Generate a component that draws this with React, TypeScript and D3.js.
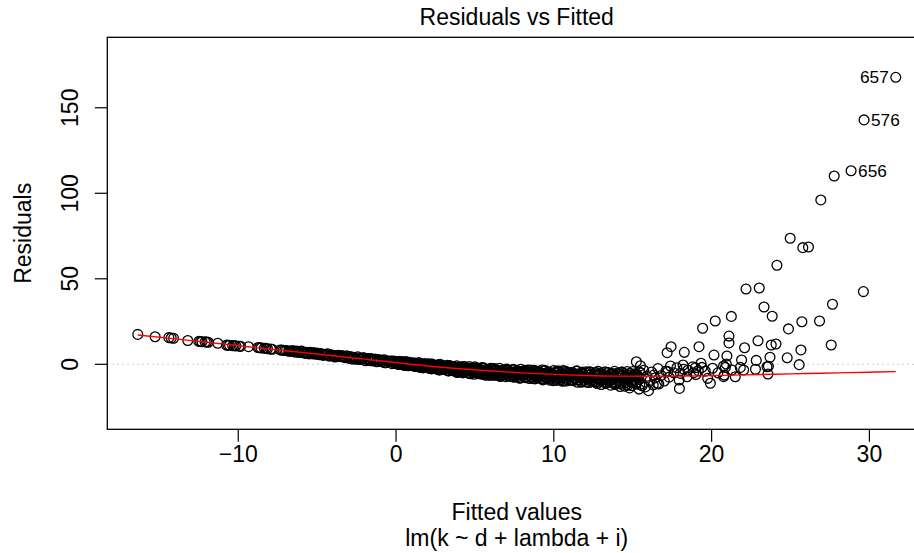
import React from "react";
import * as d3 from "d3";

const W = 914;
const H = 553;

// Axis limits (R's 4% extension around the data range)
const xDomain = [-18.3, 33.6];
const yDomain = [-38.0, 191.2];
const xTicks = [-10, 0, 10, 20, 30];
const yTicks = [0, 50, 100, 150];

const title = "Residuals vs Fitted";
const xLabel = "Fitted values";
const subLabel = "lm(k ~ d + lambda + i)";
const yLabel = "Residuals";

// Left tail, nearly on a straight line
const fitLeft = [-16.37, -15.27, -14.4, -14.25, -14.1, -13.2, -12.5, -12.3, -12.1, -11.9, -11.3, -10.75, -10.55, -10.35, -10.15, -9.95, -9.35, -8.75, -8.55, -8.35, -8.15, -7.95, -7.35, -7.15, -6.95, -6.8, -6.65];
const resLeft = [17.5, 16.1, 15.6, 15.4, 15.2, 13.9, 13.4, 13.2, 13.1, 12.9, 12.3, 11.2, 11.1, 10.9, 10.8, 10.6, 10.3, 9.8, 9.6, 9.4, 9.1, 8.9, 8.4, 8.2, 8.0, 7.8, 7.7];

const fitLeft2 = [-12.4, -12.0, -10.65, -10.25, -9.85, -8.65, -8.25, -7.85, -7.25, -7.05, -6.75, -6.6];
const resLeft2 = [13.3, 13.0, 11.1, 10.85, 10.5, 9.7, 9.3, 8.8, 8.3, 8.1, 7.6, 7.9];

const fitM1 = [-6.5, -6.35, -6.2, -6.05, -5.9, -5.75, -5.6, -5.45, -5.3, -5.15, -5.0, -4.85, -4.7, -4.55, -4.4, -4.25, -4.1, -3.95, -3.8, -3.65, -3.5, -3.35, -3.2, -3.05];
const resM1 = [7.9, 7.05, 7.4, 7.65, 6.8, 6.35, 6.9, 6.95, 6.1, 6.25, 6.6, 5.55, 6.0, 5.55, 5.9, 4.85, 5.5, 5.05, 4.6, 5.25, 4.4, 4.55, 3.8, 4.45];

const fitM2 = [-2.9, -2.78, -2.66, -2.54, -2.42, -2.3, -2.18, -2.06, -1.94, -1.82, -1.7, -1.58, -1.46, -1.34, -1.22, -1.1, -0.98, -0.86, -0.74, -0.62, -0.5, -0.38, -0.26, -0.14, -0.02];
const resM2 = [4.59, 3.06, 3.94, 3.32, 4.39, 2.77, 3.35, 3.82, 2.1, 3.27, 2.55, 3.43, 2.0, 2.68, 1.46, 2.73, 2.01, 1.49, 2.66, 0.94, 1.72, 1.89, 0.37, 1.84, 0.72];

const fitM3 = [-6.42, -6.27, -6.12, -5.97, -5.82, -5.67, -5.52, -5.37, -5.22, -5.07, -4.92, -4.77, -4.62, -4.47, -4.32, -4.17, -4.02, -3.87, -3.72, -3.57, -3.42, -3.27, -3.12, -2.97, -2.82, -2.67, -2.52, -2.37, -2.22, -2.07, -1.92, -1.77, -1.62, -1.47, -1.32, -1.17, -1.02, -0.87, -0.72, -0.57, -0.42, -0.27, -0.12];
const resM3 = [7.6, 7.82, 6.91, 7.72, 6.79, 7.06, 6.11, 6.63, 6.89, 5.91, 6.0, 6.28, 5.22, 5.79, 6.16, 4.89, 5.19, 4.27, 5.19, 4.53, 5.06, 4.11, 4.92, 3.55, 4.01, 4.11, 2.94, 3.73, 2.96, 3.77, 2.88, 3.35, 2.07, 2.73, 3.14, 1.78, 2.04, 2.51, 0.92, 1.97, 1.48, 1.92, 0.57];

const fitB1 = [0.05, 0.15, 0.25, 0.35, 0.45, 0.55, 0.65, 0.75, 0.85, 0.95, 1.05, 1.15, 1.25, 1.35, 1.45, 1.55, 1.65, 1.75, 1.85, 1.95, 2.05, 2.15, 2.25, 2.35, 2.45, 2.55, 2.65, 2.75, 2.85, 2.95, 3.05, 3.15, 3.25, 3.35, 3.45, 3.55, 3.65, 3.75, 3.85, 3.95];
const resB1 = [1.46, -0.09, 0.86, 1.52, 0.11, -0.69, 0.7, 1.32, -0.58, 0.05, 0.83, -1.05, 0.27, -0.62, 0.91, -1.25, -0.37, -1.9, 0.03, -1.1, 0.31, -1.61, -2.65, -0.56, -1.29, -2.53, -0.32, -3.44, -1.34, -0.91, -2.75, -2.15, -0.62, -3.82, -2.08, -3.5, -1.31, -3.14, -0.89, -4.34];

const fitB1b = [0.1, 0.2, 0.3, 0.4, 0.5, 0.6, 0.7, 0.8, 0.9, 1.0, 1.1, 1.2, 1.3, 1.4, 1.5, 1.6, 1.7, 1.8, 1.9, 2.0, 2.1, 2.2, 2.3, 2.4, 2.5, 2.6, 2.7, 2.8, 2.9, 3.0, 3.1, 3.2, 3.3, 3.4, 3.5, 3.6, 3.7, 3.8, 3.9, 4.0];
const resB1b = [0.45, 1.79, 0.64, -0.22, 0.99, 1.59, 0.0, -0.82, 0.88, -0.3, -0.93, 0.75, -0.77, -0.08, -1.81, 0.15, -0.93, 0.4, -1.73, -0.8, -2.41, -0.69, 0.15, -2.15, -1.61, -0.57, -2.98, -0.06, -2.36, -2.99, -1.35, -1.9, -3.88, -0.88, -2.82, -1.6, -3.99, -2.36, -4.81, -1.56];

const fitB1c = [0.03, 0.13, 0.23, 0.33, 0.43, 0.53, 0.63, 0.73, 0.83, 0.93, 1.03, 1.13, 1.23, 1.33, 1.43, 1.53, 1.63, 1.73, 1.83, 1.93, 2.03, 2.13, 2.23, 2.33, 2.43, 2.53, 2.63, 2.73, 2.83, 2.93, 3.03, 3.13, 3.23, 3.33, 3.43, 3.53, 3.63, 3.73, 3.83, 3.93];
const resB1c = [0.97, 1.49, 0.13, 1.64, 0.24, 0.87, -0.62, 0.45, 1.08, -0.48, -0.16, 0.51, -1.21, 0.0, 0.86, -1.29, -0.56, -2.09, -0.17, -1.23, -0.05, -1.67, 0.1, -2.36, -1.27, -0.88, -2.96, -1.23, -2.51, -0.72, -2.29, -1.15, -3.5, -1.96, -0.94, -3.47, -2.73, -1.57, -4.59, -2.24];

const fitB2 = [4.05, 4.15, 4.25, 4.35, 4.45, 4.55, 4.65, 4.75, 4.85, 4.95, 5.05, 5.15, 5.25, 5.35, 5.45, 5.55, 5.65, 5.75, 5.85, 5.95, 6.05, 6.15, 6.25, 6.35, 6.45, 6.55, 6.65, 6.75, 6.85, 6.95, 7.05, 7.15, 7.25, 7.35, 7.45, 7.55, 7.65, 7.75, 7.85, 7.95, 8.05, 8.15, 8.25, 8.35, 8.45, 8.55, 8.65, 8.75, 8.85, 8.95, 9.05, 9.15, 9.25, 9.35, 9.45, 9.55, 9.65, 9.75, 9.85, 9.95];
const resB2 = [-3.64, -1.48, -5.01, -2.42, -3.32, -4.64, -1.35, -3.95, -2.52, -5.82, -3.08, -2.27, -4.98, -3.72, -5.81, -2.05, -5.07, -2.85, -4.53, -6.46, -3.96, -2.6, -6.21, -3.65, -5.39, -2.31, -6.26, -4.85, -3.67, -7.21, -3.27, -5.6, -4.39, -7.26, -2.95, -6.63, -5.13, -3.88, -8.15, -4.51, -6.43, -3.52, -7.35, -5.23, -8.29, -4.5, -5.93, -3.46, -7.15, -8.05, -4.42, -6.46, -3.35, -8.59, -5.45, -7.84, -4.37, -7.07, -5.34, -9.57];

const fitB2b = [4.1, 4.2, 4.3, 4.4, 4.5, 4.6, 4.7, 4.8, 4.9, 5.0, 5.1, 5.2, 5.3, 5.4, 5.5, 5.6, 5.7, 5.8, 5.9, 6.0, 6.1, 6.2, 6.3, 6.4, 6.5, 6.6, 6.7, 6.8, 6.9, 7.0, 7.1, 7.2, 7.3, 7.4, 7.5, 7.6, 7.7, 7.8, 7.9, 8.0, 8.1, 8.2, 8.3, 8.4, 8.5, 8.6, 8.7, 8.8, 8.9, 9.0, 9.1, 9.2, 9.3, 9.4, 9.5, 9.6, 9.7, 9.8, 9.9, 10.0];
const resB2b = [-2.43, -4.73, -1.34, -4.07, -3.0, -2.13, -5.56, -3.1, -4.67, -1.51, -4.39, -5.34, -2.77, -4.17, -2.22, -6.12, -3.25, -5.6, -4.06, -2.27, -4.9, -6.38, -2.89, -5.57, -3.95, -7.16, -3.33, -4.5, -6.15, -2.73, -6.79, -4.59, -5.91, -3.16, -7.59, -4.03, -5.65, -7.03, -2.87, -6.63, -4.82, -7.83, -4.1, -6.32, -3.36, -7.25, -5.6, -8.49, -4.9, -4.1, -7.83, -5.89, -9.1, -3.96, -7.2, -4.91, -8.48, -5.88, -7.72, -3.58];

const fitB2c = [4.03, 4.13, 4.23, 4.33, 4.43, 4.53, 4.63, 4.73, 4.83, 4.93, 5.03, 5.13, 5.23, 5.33, 5.43, 5.53, 5.63, 5.73, 5.83, 5.93, 6.03, 6.13, 6.23, 6.33, 6.43, 6.53, 6.63, 6.73, 6.83, 6.93, 7.03, 7.13, 7.23, 7.33, 7.43, 7.53, 7.63, 7.73, 7.83, 7.93, 8.03, 8.13, 8.23, 8.33, 8.43, 8.53, 8.63, 8.73, 8.83, 8.93, 9.03, 9.13, 9.23, 9.33, 9.43, 9.53, 9.63, 9.73, 9.83, 9.93];
const resB2c = [-3.02, -1.88, -4.38, -1.38, -3.92, -2.64, -5.23, -3.19, -1.98, -4.62, -3.94, -2.7, -5.51, -3.37, -1.87, -5.31, -4.03, -6.38, -3.24, -4.81, -2.9, -5.3, -2.52, -6.15, -4.42, -3.75, -6.73, -4.1, -5.89, -3.22, -5.4, -3.69, -6.92, -4.69, -3.2, -6.61, -5.51, -3.87, -7.87, -4.63, -5.62, -4.06, -7.34, -3.32, -6.64, -4.91, -8.28, -5.55, -3.92, -7.34, -6.4, -4.74, -8.37, -5.55, -3.56, -7.98, -6.27, -9.28, -5.18, -7.17];

const fitB3 = [10.05, 10.15, 10.25, 10.35, 10.45, 10.55, 10.65, 10.75, 10.85, 10.95, 11.05, 11.15, 11.25, 11.35, 11.45, 11.55, 11.65, 11.75, 11.85, 11.95, 12.05, 12.15, 12.25, 12.35, 12.45, 12.55, 12.65, 12.75, 12.85, 12.95, 13.05, 13.15, 13.25, 13.35, 13.45, 13.55, 13.65, 13.75, 13.85, 13.95, 14.05, 14.15, 14.25, 14.35, 14.45, 14.55, 14.65, 14.75, 14.85, 14.95, 15.05, 15.15, 15.25, 15.35, 15.45];
const resB3 = [-5.11, -9.39, -6.39, -4.28, -8.02, -9.94, -5.92, -4.05, -8.85, -6.98, -4.76, -9.34, -5.79, -7.8, -3.86, -8.89, -6.59, -10.01, -5.3, -7.72, -4.31, -8.49, -10.62, -5.75, -7.18, -9.7, -4.73, -11.23, -6.57, -5.5, -9.18, -7.75, -4.43, -10.79, -7.08, -9.76, -5.23, -8.69, -4.11, -10.69, -9.19, -4.92, -11.62, -6.54, -8.15, -10.58, -4.19, -9.06, -6.25, -12.4, -7.12, -5.49, -10.49, -8.03, -11.84];

const fitB3b = [10.1, 10.2, 10.3, 10.4, 10.5, 10.6, 10.7, 10.8, 10.9, 11.0, 11.1, 11.2, 11.3, 11.4, 11.5, 11.6, 11.7, 11.8, 11.9, 12.0, 12.1, 12.2, 12.3, 12.4, 12.5, 12.6, 12.7, 12.8, 12.9, 13.0, 13.1, 13.2, 13.3, 13.4, 13.5, 13.6, 13.7, 13.8, 13.9, 14.0, 14.1, 14.2, 14.3, 14.4, 14.5, 14.6, 14.7, 14.8, 14.9, 15.0, 15.1, 15.2, 15.3, 15.4, 15.5];
const resB3b = [-8.13, -3.93, -7.01, -9.2, -5.54, -3.7, -7.8, -9.75, -5.03, -6.6, -9.28, -4.78, -8.41, -6.48, -10.5, -5.55, -7.93, -4.59, -9.38, -7.04, -10.52, -6.4, -4.33, -9.26, -7.89, -5.43, -10.46, -4.02, -8.74, -9.87, -6.25, -8.2, -11.12, -4.82, -8.59, -5.97, -10.56, -7.16, -11.8, -5.28, -6.85, -11.18, -4.54, -9.7, -7.6, -5.78, -12.23, -7.44, -10.31, -4.22, -9.58, -11.27, -6.33, -8.87, -5.12];

const fitB3c = [10.03, 10.13, 10.23, 10.33, 10.43, 10.53, 10.63, 10.73, 10.83, 10.93, 11.03, 11.13, 11.23, 11.33, 11.43, 11.53, 11.63, 11.73, 11.83, 11.93, 12.03, 12.13, 12.23, 12.33, 12.43, 12.53, 12.63, 12.73, 12.83, 12.93, 13.03, 13.13, 13.23, 13.33, 13.43, 13.53, 13.63, 13.73, 13.83, 13.93, 14.03, 14.13, 14.23, 14.33, 14.43, 14.53, 14.63, 14.73, 14.83, 14.93, 15.03, 15.13, 15.23, 15.33, 15.43];
const resB3c = [-6.61, -4.83, -8.52, -3.96, -7.7, -5.72, -9.52, -6.42, -4.54, -8.41, -7.33, -5.43, -9.54, -6.31, -4.02, -9.05, -7.08, -10.5, -5.8, -8.06, -5.17, -8.65, -4.5, -9.78, -7.18, -6.14, -10.45, -6.54, -9.1, -5.13, -8.26, -5.71, -10.37, -7.05, -4.83, -9.75, -8.08, -5.63, -11.41, -6.63, -8.01, -5.69, -10.44, -4.55, -9.33, -6.77, -11.63, -7.63, -5.22, -10.15, -8.75, -6.31, -11.52, -7.4, -4.48];

// Lower edge and transition cluster (13 - 24)
const fitLow = [13.0, 13.6, 14.2, 14.5, 14.8, 15.4, 15.6, 15.8, 16.0, 16.3, 15.7, 15.9, 16.1, 16.2, 16.4, 16.6, 16.8, 17.0, 17.1, 17.3, 17.6, 17.8, 18.5, 18.8, 19.0, 19.6, 20.4, 16.33, 16.55, 16.65, 17.96, 19.92, 20.76, 17.22, 18.02, 18.86, 17.94, 18.44, 18.23, 19.39, 19.16, 19.75, 20.87, 20.8, 21.29, 21.5, 21.82, 22.03, 22.78, 23.51, 23.57];
const resLow = [-11.8, -12.2, -13.0, -12.8, -13.8, -14.5, -12.6, -13.2, -15.4, -12.0, -3.5, -7.0, -9.5, -4.5, -8.0, -2.5, -6.5, -9.8, -4.0, -7.5, -5.0, -2.0, -3.5, -1.5, -6.0, -4.0, -5.0, -6.3, -11.1, -11.5, -14.1, -11.1, -7.2, -4.3, -5.3, -4.9, -9.2, -7.3, -2.9, -1.8, -3.7, -8.2, -1.8, -6.3, -3.3, -7.3, -1.8, -3.3, -2.9, -1.4, -5.7];

// Upper scatter on the right
const fitHigh = [15.23, 15.49, 17.43, 17.18, 18.27, 19.2, 20.15, 20.97, 17.39, 18.19, 19.33, 20.06, 20.76, 18.97, 19.43, 20.23, 21.25, 21.1, 21.1, 22.18, 23.02, 23.32, 23.84, 24.14, 24.98, 25.78, 26.14, 26.92, 27.77, 28.84, 29.66, 31.67, 29.62, 27.66, 26.84, 25.72, 24.87, 22.94, 22.09, 23.78, 24.08, 25.66, 27.58, 24.79, 25.55, 21.9, 22.83, 23.7, 23.6, 20.93];
const resHigh = [1.5, -0.8, 10.3, 6.8, 7.0, 10.3, 5.4, 4.9, -1.0, -0.4, 0.6, -2.3, -1.0, -2.0, 21.1, 25.3, 28.0, 16.5, 12.5, 44.0, 44.6, 33.5, 28.1, 57.9, 73.7, 68.2, 68.6, 96.1, 110.1, 113.2, 142.9, 167.8, 42.5, 35.1, 25.3, 24.9, 20.7, 13.8, 9.7, 11.3, 11.9, 8.4, 11.3, 3.8, -0.2, 2.5, 2.3, 4.1, -1.2, 0.2];

// Labelled observations
const idLabels = ["657", "576", "656"];
const idFitted = [31.67, 29.66, 28.84];
const idResid = [167.8, 142.9, 113.2];
const idSide = ["left", "right", "right"];

// Smoother (red line)
const smoothX = [-16.37, -14, -12, -10, -8, -6, -4, -2, 0, 2, 4, 6, 8, 10, 12, 14, 16, 18, 20, 22, 24, 26, 28, 30, 31.67];
const smoothY = [17.1, 14.9, 12.9, 10.9, 8.9, 7.0, 5.0, 3.0, 1.0, -1.0, -2.6, -3.9, -5.0, -5.9, -6.5, -6.9, -7.0, -6.9, -6.6, -6.2, -5.8, -5.4, -5.0, -4.6, -4.3];

const FONT = "'Liberation Sans Narrow', 'Arial Narrow', 'Helvetica Narrow', 'Liberation Sans', Arial, sans-serif";
const FS = 23;

function pairs(xs: number[], ys: number[]) {
  const n = Math.min(xs.length, ys.length);
  const out: [number, number][] = [];
  for (let i = 0; i < n; i++) out.push([xs[i], ys[i]]);
  return out;
}

export default function App() {
  const left = 107.3;
  const right = 926.2;
  const top = 37.3;
  const bottom = 429.3;
  const x = d3.scaleLinear().domain(xDomain).range([left, right]);
  const y = d3.scaleLinear().domain(yDomain).range([bottom, top]);

  const points = [
    ...pairs(fitLeft, resLeft),
    ...pairs(fitLeft2, resLeft2),
    ...pairs(fitM1, resM1),
    ...pairs(fitM2, resM2),
    ...pairs(fitM3, resM3),
    ...pairs(fitB1, resB1),
    ...pairs(fitB1b, resB1b),
    ...pairs(fitB1c, resB1c),
    ...pairs(fitB2, resB2),
    ...pairs(fitB2b, resB2b),
    ...pairs(fitB2c, resB2c),
    ...pairs(fitB3, resB3),
    ...pairs(fitB3b, resB3b),
    ...pairs(fitB3c, resB3c),
    ...pairs(fitLow, resLow),
    ...pairs(fitHigh, resHigh),
  ];

  const line = d3
    .line<[number, number]>()
    .x((d) => x(d[0]))
    .y((d) => y(d[1]))
    .curve(d3.curveMonotoneX);
  const smoothPath = line(pairs(smoothX, smoothY)) || "";

  const fmt = d3.format("");
  const cx = (left + right) / 2;
  const cy = (top + bottom) / 2;

  return (
    <svg
      width={W}
      height={H}
      viewBox={`0 0 ${W} ${H}`}
      style={{ position: "absolute", left: 0, top: 0, background: "#fff" }}
      fontFamily={FONT}
    >
      <rect x={0} y={0} width={W} height={H} fill="#fff" />
      <defs>
        <clipPath id="plotclip">
          <rect x={left} y={top} width={right - left} height={bottom - top} />
        </clipPath>
      </defs>

      {/* zero reference line */}
      <line
        x1={left}
        x2={right}
        y1={y(0)}
        y2={y(0)}
        stroke="#bebebe"
        strokeWidth={1.1}
        strokeDasharray="1.5 3.5"
      />

      <g clipPath="url(#plotclip)">
        {points.map((p, i) => (
          <circle
            key={i}
            cx={x(p[0])}
            cy={y(p[1])}
            r={4.9}
            fill="none"
            stroke="#000"
            strokeWidth={1.3}
          />
        ))}
        <path d={smoothPath} fill="none" stroke="#ff0000" strokeWidth={1.4} />
      </g>

      {idLabels.map((lab, i) => {
        const px = x(idFitted[i]);
        const py = y(idResid[i]);
        const isLeft = idSide[i] === "left";
        return (
          <text
            key={lab}
            x={isLeft ? px - 7 : px + 7}
            y={py}
            dy="0.35em"
            fontSize={FS * 0.75}
            textAnchor={isLeft ? "end" : "start"}
            fill="#000"
          >
            {lab}
          </text>
        );
      })}

      {/* box */}
      <rect
        x={left}
        y={top}
        width={right - left}
        height={bottom - top}
        fill="none"
        stroke="#000"
        strokeWidth={1.3}
      />

      {/* x axis */}
      {xTicks.map((t) => (
        <g key={"x" + t}>
          <line x1={x(t)} x2={x(t)} y1={bottom} y2={bottom + 12.5} stroke="#000" strokeWidth={1.2} />
          <text x={x(t)} y={462} textAnchor="middle" fontSize={FS} fill="#000">
            {fmt(t)}
          </text>
        </g>
      ))}

      {/* y axis */}
      {yTicks.map((t) => (
        <g key={"y" + t}>
          <line x1={left - 12.5} x2={left} y1={y(t)} y2={y(t)} stroke="#000" strokeWidth={1.2} />
          <text
            transform={`translate(78, ${y(t)}) rotate(-90)`}
            textAnchor="middle"
            fontSize={FS}
            fill="#000"
          >
            {fmt(t)}
          </text>
        </g>
      ))}

      <text x={cx} y={25} textAnchor="middle" fontSize={FS} fill="#000">
        {title}
      </text>
      <text x={cx} y={520} textAnchor="middle" fontSize={FS} fill="#000">
        {xLabel}
      </text>
      <text x={cx} y={546} textAnchor="middle" fontSize={FS} fill="#000">
        {subLabel}
      </text>
      <text
        transform={`translate(31, ${cy}) rotate(-90)`}
        textAnchor="middle"
        fontSize={FS}
        fill="#000"
      >
        {yLabel}
      </text>
    </svg>
  );
}
